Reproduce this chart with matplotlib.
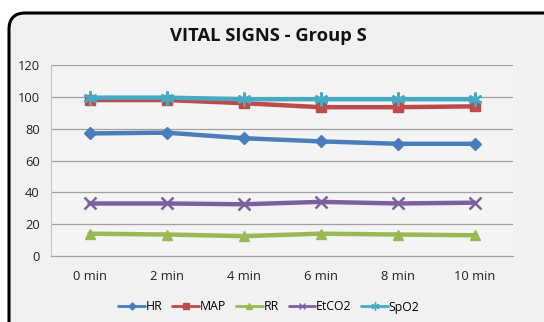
import matplotlib
matplotlib.use("Agg")
import matplotlib.pyplot as plt
from matplotlib.patches import FancyBboxPatch

categories = ["0 min", "2 min", "4 min", "6 min", "8 min", "10 min"]
HR = [77, 77.5, 74, 72, 70.5, 70.5]
MAP = [98, 98, 96, 93.5, 93.5, 94]
RR = [14, 13.5, 12.5, 14, 13.5, 13]
EtCO2 = [33, 33, 32.5, 34, 33, 33.5]
SpO2 = [99.5, 99.5, 98.5, 98.5, 98.5, 98.5]
yticks = [0, 20, 40, 60, 80, 100, 120]

series = [
    ("HR", HR, "#4a7ebb", "D", 6),
    ("MAP", MAP, "#be4b48", "s", 7),
    ("RR", RR, "#98b954", "^", 7),
    ("EtCO2", EtCO2, "#7d60a0", "x", 8),
    ("SpO2", SpO2, "#46aac5", (6, 2, 0), 10),
]

plt.rcParams['font.family'] = ['Open Sans', 'DejaVu Sans']

W, H = 544, 322
fig = plt.figure(figsize=(W / 100, H / 100), dpi=100)
fig.patch.set_facecolor("white")

# rounded frame
frame = FancyBboxPatch((9 / W, -0.05), (W - 9 + 20) / W, (H - 13) / H + 0.05,
                       boxstyle="round,pad=0,rounding_size=0.03",
                       transform=fig.transFigure, facecolor="#f1f1f1",
                       edgecolor="black", linewidth=2.2, mutation_aspect=W / H,
                       clip_on=False, zorder=-10)
fig.patches.append(frame)

ax = fig.add_axes([51 / W, 1 - 256 / H, (513 - 51) / W, (256 - 65) / H])
ax.set_facecolor("#f4f4f4")
x = list(range(len(categories)))
for name, vals, color, marker, ms in series:
    mew = 1.8 if marker in ("x", (6, 2, 0)) else 1
    ax.plot(x, vals, color=color, linewidth=3.2, marker=marker, markersize=ms,
            markeredgewidth=mew, markeredgecolor=color, markerfacecolor=color,
            label=name, solid_capstyle="round")

ax.set_xlim(-0.5, len(categories) - 0.5)
ax.set_ylim(0, 120)
ax.set_yticks(yticks)
ax.set_xticks(x)
ax.set_xticklabels(categories)
ax.grid(axis="y", color="#a0a0a0", linewidth=0.9)
ax.set_axisbelow(True)
for s in ["top", "right"]:
    ax.spines[s].set_visible(False)
ax.spines["left"].set_color("#c4c4c4")
ax.spines["left"].set_linewidth(0.8)
ax.spines["bottom"].set_color("#a0a0a0")
ax.tick_params(axis="both", length=0, labelsize=9.3, colors="#222222")
ax.tick_params(axis="x", pad=10)
ax.tick_params(axis="y", pad=8)

fig.text(268 / W, 1 - 36 / H, "VITAL SIGNS - Group S", ha="center", va="center",
         fontsize=13.2, fontweight="bold", color="#111111")

leg = fig.legend(loc="center", bbox_to_anchor=(269 / W, 1 - 307 / H), ncol=5,
                 frameon=False, fontsize=8.8, handlelength=2.2, handletextpad=0.05,
                 columnspacing=0.8, markerscale=0.6)
for line in leg.get_lines():
    line.set_linewidth(2)
    line.set_markeredgewidth(1)

fig.savefig("out.png", dpi=100)
